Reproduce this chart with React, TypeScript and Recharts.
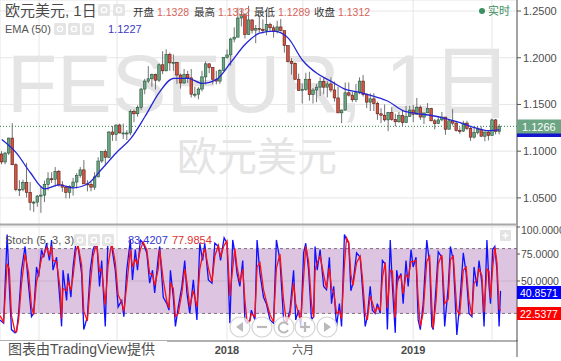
import React from 'react'
import {
  ComposedChart,
  Bar,
  Line,
  XAxis,
  YAxis,
  CartesianGrid,
  ReferenceLine,
  ReferenceArea,
} from 'recharts'

const FONT = '"Liberation Sans", "Noto Sans CJK SC", sans-serif'

// weekly candles from mid Oct 2016: open, high, low, close
const weeklyCandles: [number, number, number, number][] = [
  [1.0970, 1.1000, 1.0860, 1.0885], [1.0885, 1.0990, 1.0860, 1.0980], [1.0980, 1.1145, 1.0960, 1.1140],
  [1.1140, 1.1300, 1.0850, 1.0855], [1.0855, 1.0870, 1.0570, 1.0590], [1.0590, 1.0690, 1.0520, 1.0590],
  [1.0590, 1.0695, 1.0570, 1.0665], [1.0665, 1.0875, 1.0505, 1.0560], [1.0560, 1.0670, 1.0365, 1.0450],
  [1.0450, 1.0470, 1.0350, 1.0455], [1.0455, 1.0530, 1.0405, 1.0520], [1.0520, 1.0630, 1.0340, 1.0530],
  [1.0530, 1.0685, 1.0455, 1.0645], [1.0645, 1.0775, 1.0580, 1.0705], [1.0705, 1.0775, 1.0660, 1.0700],
  [1.0700, 1.0830, 1.0620, 1.0785], [1.0785, 1.0800, 1.0620, 1.0640], [1.0640, 1.0680, 1.0565, 1.0615],
  [1.0615, 1.0630, 1.0495, 1.0560], [1.0560, 1.0635, 1.0495, 1.0620], [1.0620, 1.0715, 1.0525, 1.0670],
  [1.0670, 1.0765, 1.0600, 1.0740], [1.0740, 1.0830, 1.0715, 1.0800], [1.0800, 1.0905, 1.0650, 1.0650],
  [1.0650, 1.0690, 1.0570, 1.0645], [1.0645, 1.0670, 1.0570, 1.0615], [1.0615, 1.0775, 1.0585, 1.0725],
  [1.0725, 1.0935, 1.0720, 1.0895], [1.0895, 1.0995, 1.0875, 1.0995], [1.0995, 1.1020, 1.0840, 1.0935],
  [1.0935, 1.1215, 1.0925, 1.1205], [1.1205, 1.1270, 1.1110, 1.1180], [1.1180, 1.1285, 1.1110, 1.1280],
  [1.1280, 1.1295, 1.1190, 1.1195], [1.1195, 1.1295, 1.1130, 1.1195], [1.1195, 1.1225, 1.1120, 1.1195],
  [1.1195, 1.1445, 1.1170, 1.1425], [1.1425, 1.1445, 1.1310, 1.1400], [1.1400, 1.1490, 1.1370, 1.1470],
  [1.1470, 1.1680, 1.1440, 1.1665], [1.1665, 1.1775, 1.1610, 1.1750], [1.1750, 1.1910, 1.1730, 1.1775],
  [1.1775, 1.1830, 1.1690, 1.1820], [1.1820, 1.1830, 1.1660, 1.1760], [1.1760, 1.1940, 1.1740, 1.1925],
  [1.1925, 1.2070, 1.1825, 1.1860], [1.1860, 1.2090, 1.1855, 1.2035], [1.2035, 1.2055, 1.1860, 1.1945],
  [1.1945, 1.2035, 1.1860, 1.1950], [1.1950, 1.1955, 1.1720, 1.1815], [1.1815, 1.1830, 1.1670, 1.1730],
  [1.1730, 1.1880, 1.1720, 1.1820], [1.1820, 1.1860, 1.1730, 1.1785], [1.1785, 1.1880, 1.1575, 1.1610],
  [1.1610, 1.1690, 1.1575, 1.1610], [1.1610, 1.1685, 1.1555, 1.1665], [1.1665, 1.1860, 1.1640, 1.1795],
  [1.1795, 1.1960, 1.1715, 1.1935], [1.1935, 1.1940, 1.1835, 1.1895], [1.1895, 1.1895, 1.1715, 1.1770],
  [1.1770, 1.1860, 1.1715, 1.1750], [1.1750, 1.1880, 1.1720, 1.1865], [1.1865, 1.2005, 1.1860, 1.2005],
  [1.2005, 1.2090, 1.1990, 1.2030], [1.2030, 1.2215, 1.1915, 1.2200], [1.2200, 1.2325, 1.2165, 1.2220],
  [1.2220, 1.2535, 1.2220, 1.2425], [1.2425, 1.2520, 1.2335, 1.2460], [1.2460, 1.2475, 1.2205, 1.2250],
  [1.2250, 1.2555, 1.2245, 1.2405], [1.2405, 1.2410, 1.2260, 1.2295], [1.2295, 1.2350, 1.2155, 1.2315],
  [1.2315, 1.2445, 1.2270, 1.2305], [1.2305, 1.2410, 1.2260, 1.2290], [1.2290, 1.2475, 1.2240, 1.2355],
  [1.2355, 1.2375, 1.2285, 1.2320], [1.2320, 1.2345, 1.2215, 1.2280], [1.2280, 1.2395, 1.2260, 1.2330],
  [1.2330, 1.2415, 1.2280, 1.2290], [1.2290, 1.2290, 1.2055, 1.2130], [1.2130, 1.2130, 1.1950, 1.1960],
  [1.1960, 1.1995, 1.1820, 1.1940], [1.1940, 1.1950, 1.1765, 1.1770], [1.1770, 1.1830, 1.1645, 1.1650],
  [1.1650, 1.1725, 1.1510, 1.1660], [1.1660, 1.1840, 1.1645, 1.1770], [1.1770, 1.1850, 1.1540, 1.1605],
  [1.1605, 1.1675, 1.1510, 1.1655], [1.1655, 1.1720, 1.1525, 1.1685], [1.1685, 1.1790, 1.1590, 1.1745],
  [1.1745, 1.1790, 1.1610, 1.1685], [1.1685, 1.1750, 1.1575, 1.1720], [1.1720, 1.1790, 1.1630, 1.1655],
  [1.1655, 1.1745, 1.1530, 1.1570], [1.1570, 1.1690, 1.1410, 1.1410], [1.1410, 1.1445, 1.1300, 1.1440],
  [1.1440, 1.1735, 1.1430, 1.1625], [1.1625, 1.1735, 1.1585, 1.1600], [1.1600, 1.1635, 1.1525, 1.1550],
  [1.1550, 1.1720, 1.1525, 1.1625], [1.1625, 1.1790, 1.1610, 1.1750], [1.1750, 1.1815, 1.1585, 1.1605],
  [1.1605, 1.1620, 1.1460, 1.1525], [1.1525, 1.1620, 1.1430, 1.1560], [1.1560, 1.1620, 1.1430, 1.1510],
  [1.1510, 1.1530, 1.1335, 1.1400], [1.1400, 1.1460, 1.1300, 1.1385], [1.1385, 1.1500, 1.1315, 1.1335],
  [1.1335, 1.1420, 1.1215, 1.1415], [1.1415, 1.1470, 1.1325, 1.1340], [1.1340, 1.1400, 1.1265, 1.1315],
  [1.1315, 1.1420, 1.1305, 1.1380], [1.1380, 1.1440, 1.1270, 1.1305], [1.1305, 1.1485, 1.1305, 1.1370],
  [1.1370, 1.1485, 1.1370, 1.1440], [1.1440, 1.1495, 1.1310, 1.1395], [1.1395, 1.1570, 1.1395, 1.1470],
  [1.1470, 1.1490, 1.1335, 1.1365], [1.1365, 1.1410, 1.1290, 1.1410], [1.1410, 1.1515, 1.1410, 1.1455],
  [1.1455, 1.1465, 1.1320, 1.1325], [1.1325, 1.1345, 1.1235, 1.1295], [1.1295, 1.1370, 1.1290, 1.1335],
  [1.1335, 1.1420, 1.1320, 1.1365], [1.1365, 1.1365, 1.1175, 1.1235], [1.1235, 1.1345, 1.1235, 1.1325],
  [1.1325, 1.1450, 1.1275, 1.1300], [1.1300, 1.1325, 1.1210, 1.1220], [1.1220, 1.1255, 1.1185, 1.1215],
  [1.1215, 1.1325, 1.1205, 1.1300], [1.1300, 1.1325, 1.1225, 1.1245], [1.1245, 1.1265, 1.1110, 1.1150],
  [1.1150, 1.1265, 1.1135, 1.1200], [1.1200, 1.1265, 1.1180, 1.1235], [1.1235, 1.1265, 1.1155, 1.1160],
  [1.1160, 1.1210, 1.1105, 1.1205], [1.1205, 1.1215, 1.1115, 1.1170], [1.1170, 1.1348, 1.1165, 1.1335],
  [1.1335, 1.1345, 1.1180, 1.1210], [1.1210, 1.1290, 1.1180, 1.1266],
]

// EMA(50), sampled every 4 weeks
const emaWeeks = [0, 4, 8, 12, 16, 20, 24, 28, 32, 36, 40, 44, 48, 52, 56, 60, 64, 68, 72, 76, 80, 84, 88, 92, 96, 100, 104, 108, 112, 116, 120, 124, 128, 132, 136, 139]
const emaValues = [
  1.1124, 1.0984, 1.0769, 1.0597, 1.0640, 1.0608, 1.0651, 1.0812, 1.0984, 1.1134, 1.1371, 1.1629,
  1.1780, 1.1780, 1.1726, 1.1769, 1.1952, 1.2145, 1.2263, 1.2285, 1.2210, 1.1973, 1.1833, 1.1747,
  1.1661, 1.1629, 1.1586, 1.1532, 1.1435, 1.1403, 1.1382, 1.1349, 1.1306, 1.1253, 1.1220, 1.1227,
]

// Stoch (5,3,3): trading day index, %K, %D
const stochDays = [
  0, 5, 10, 13, 16, 21, 23, 26, 30, 35, 40, 44, 47, 51, 54, 58, 61, 65, 69, 72, 74, 79, 84, 86, 88, 93, 95, 99,
  102, 106, 109, 114, 117, 122, 126, 130, 135, 139, 142, 147, 151, 156, 161, 165, 170, 173, 177, 182, 185, 189,
  192, 196, 200, 205, 209, 213, 216, 221, 223, 228, 233, 236, 238, 242, 245, 249, 254, 258, 261, 265, 270, 275,
  279, 283, 286, 291, 296, 300, 305, 308, 313, 317, 321, 325, 328, 331, 335, 339, 342, 345, 349, 351, 356, 359,
  363, 368, 372, 377, 382, 386, 391, 396, 400, 405, 410, 413, 417, 420, 424, 427, 431, 435, 438, 440, 443, 447,
  452, 456, 460, 463, 466, 470, 474, 477, 481, 484, 487, 490, 493, 498, 503, 506, 510, 513, 517, 520, 524, 527,
  531, 534, 538, 541, 545, 548, 552, 554, 556, 560, 563, 567, 570, 574, 577, 581, 584, 587, 591, 596, 600, 603,
  605, 609, 612, 617, 621, 626, 629, 633, 638, 642, 647, 651, 655, 659, 662, 666, 669, 673, 676, 680, 683, 685,
  688, 691, 694, 697, 699,
]
const stochK = [
  14, 11, 93, 45, 5, 2, 3, 20, 60, 82, 45, 17, 20, 63, 54, 79, 72, 85, 69, 88, 60, 72, 29, 8, 60, 32, 57, 35,
  63, 85, 82, 57, 5, 17, 60, 79, 88, 45, 69, 8, 93, 82, 60, 26, 32, 17, 60, 88, 51, 79, 60, 88, 85, 76, 48, 60,
  39, 72, 82, 35, 29, 23, 60, 35, 8, 26, 45, 69, 39, 20, 51, 14, 85, 69, 85, 51, 48, 85, 82, 69, 90, 85, 11, 88,
  76, 57, 45, 69, 14, 11, 14, 23, 14, 88, 57, 35, 29, 14, 11, 88, 69, 14, 11, 23, 60, 14, 23, 8, 76, 85, 60, 14,
  17, 82, 60, 79, 45, 42, 72, 29, 45, 8, 29, 8, 93, 88, 85, 41, 48, 76, 72, 45, 8, 17, 45, 23, 20, 29, 20, 69,
  66, 5, 88, 45, 2, 60, 51, 57, 29, 69, 45, 79, 63, 72, 14, 5, 29, 88, 66, 8, 5, 45, 77, 72, 8, 45, 82, 69, 0,
  29, 76, 57, 20, 17, 63, 45, 69, 48, 8, 88, 45, 29, 79, 82, 60, 8, 40.8571,
]
const stochD = [
  18, 12, 66, 61, 18, 3, 3, 14, 47, 75, 57, 26, 19, 49, 57, 71, 74, 81, 74, 82, 69, 68, 43, 15, 43, 41, 49, 42,
  54, 78, 83, 65, 22, 13, 46, 73, 85, 59, 61, 28, 65, 86, 67, 37, 30, 22, 46, 79, 63, 70, 66, 79, 86, 79, 57, 56,
  46, 61, 79, 51, 31, 25, 48, 43, 17, 20, 39, 61, 49, 26, 41, 26, 61, 74, 80, 62, 49, 73, 83, 73, 83, 87, 36, 62,
  80, 63, 49, 61, 32, 12, 13, 20, 17, 63, 67, 42, 31, 19, 12, 62, 75, 32, 12, 19, 48, 29, 20, 13, 53, 82, 68, 29,
  16, 60, 67, 73, 56, 43, 62, 43, 40, 20, 22, 15, 65, 90, 86, 56, 46, 67, 73, 54, 20, 14, 36, 30, 21, 26, 23, 53,
  67, 25, 60, 59, 16, 41, 54, 55, 38, 56, 53, 68, 68, 69, 33, 8, 21, 68, 73, 27, 6, 32, 66, 74, 29, 33, 70, 73,
  23, 19, 60, 63, 32, 18, 48, 51, 61, 55, 21, 61, 59, 34, 62, 81, 67, 25, 22.5377,
]

// time axis, in weeks from the first candle (labels under the logo box are not shown)
const timeTicks = [10.4, 32.2, 62.9, 84.1, 114.9, 136.9]
const timeLabels = ['', '', '2018', '六月', '2019', '']
const priceTicks = [1.05, 1.1, 1.15, 1.2, 1.25]
const stochTicks = [50, 75, 100]
const lastPrice = 1.1266

const candleData = weeklyCandles.map(([o, h, l, c], i) => ({ t: i, o, h, l, c, range: [l, h] }))
const emaData = emaWeeks.map((t, i) => ({ t, ema: emaValues[i] }))
const stochData = stochDays.map((d, i) => ({ t: d / 5 - 0.5, k: stochK[i], d: stochD[i] }))

const X_DOMAIN: [number, number] = [-0.5, 143.9]

function Candle(props: any) {
  const { x, y, width, height, payload } = props
  if (!payload) return null
  const { o, h, l, c } = payload
  const top = Math.min(y, y + height)
  const span = Math.abs(height)
  const k = h > l ? span / (h - l) : 0
  const yo = top + (h - o) * k
  const yc = top + (h - c) * k
  const up = c >= o
  const cx = x + width / 2
  return (
    <g>
      <line x1={cx} x2={cx} y1={top} y2={top + span} stroke="#737375" strokeWidth={1} />
      <rect
        x={cx - 1.3}
        y={Math.min(yo, yc)}
        width={2.6}
        height={Math.max(Math.abs(yc - yo), 1)}
        fill={up ? '#6ba583' : '#d75442'}
        stroke={up ? '#225437' : '#5b1a13'}
        strokeWidth={0.6}
      />
    </g>
  )
}

function TimeTick({ x, y, payload }: any) {
  const i = timeTicks.indexOf(payload.value)
  const label = i >= 0 ? timeLabels[i] : ''
  if (!label) return null
  const isYear = /^\d+$/.test(label)
  return (
    <text x={x} y={y + 13} textAnchor="middle" fontSize={11} fill="#4a4a4a" fontWeight={isYear ? 700 : 400}>
      {label}
    </text>
  )
}

const axisTick = { fill: '#4d4d4d', fontSize: 11 }
const stochTick = { fill: '#4d4d4d', fontSize: 10.5 }

function IconBox({ x, y }: { x: number; y: number }) {
  return (
    <g>
      <rect x={x} y={y} width={12} height={12} rx={1.5} fill="#e4e4e4" />
      <circle cx={x + 6} cy={y + 6} r={2.6} fill="none" stroke="#fff" strokeWidth={1.4} />
    </g>
  )
}

function NavButton({ cx, kind }: { cx: number; kind: string }) {
  const cy = 327
  const c = '#b9b9b9'
  return (
    <g>
      <circle cx={cx} cy={cy} r={10} fill="rgba(255,255,255,0.75)" stroke="#d4d4d4" strokeWidth={1.2} />
      {kind === 'left' && <path d={`M${cx - 4} ${cy} L${cx + 3} ${cy - 5} L${cx + 3} ${cy + 5} Z`} fill={c} />}
      {kind === 'right' && <path d={`M${cx + 4} ${cy} L${cx - 3} ${cy - 5} L${cx - 3} ${cy + 5} Z`} fill={c} />}
      {(kind === 'minus' || kind === 'plus') && (
        <line x1={cx - 5} x2={cx + 5} y1={cy} y2={cy} stroke={c} strokeWidth={2.2} />
      )}
      {kind === 'plus' && <line x1={cx} x2={cx} y1={cy - 5} y2={cy + 5} stroke={c} strokeWidth={2.2} />}
      {kind === 'reset' && (
        <path d={`M${cx + 4} ${cy - 2} A5 5 0 1 0 ${cx + 4} ${cy + 3}`} fill="none" stroke={c} strokeWidth={2} />
      )}
    </g>
  )
}

export default function App() {
  return (
    <div
      style={{
        position: 'absolute',
        left: 0,
        top: 0,
        width: 561,
        height: 361,
        background: '#fff',
        overflow: 'hidden',
        fontFamily: FONT,
      }}
    >
      {/* watermark */}
      <svg width={561} height={361} style={{ position: 'absolute', left: 0, top: 0 }}>
        <text x={7} y={112} fontSize={82} fill="#e4e4e4" fontFamily={FONT}>
          FESEUR, 1日
        </text>
        <text x={177} y={171} fontSize={40} fill="#e4e4e4" fontFamily={FONT}>
          欧元美元
        </text>
      </svg>

      <div style={{ position: 'absolute', left: 0, top: 0 }}>
        <ComposedChart width={561} height={225} data={candleData} margin={{ top: 0, right: 0, bottom: 0, left: 0 }}>
          <CartesianGrid stroke="#e6e6e6" />
          <XAxis type="number" dataKey="t" domain={X_DOMAIN} ticks={timeTicks} allowDataOverflow hide />
          <YAxis
            orientation="right"
            width={44}
            domain={[1.021, 1.2618]}
            ticks={priceTicks}
            allowDataOverflow
            tickFormatter={(v) => Number(v).toFixed(4)}
            tick={axisTick}
            tickSize={4}
            tickMargin={2}
            axisLine={{ stroke: '#555' }}
            tickLine={{ stroke: '#555' }}
          />
          <ReferenceLine y={lastPrice} stroke="#2f7d4f" strokeDasharray="1 2" />
          <Bar dataKey="range" barSize={3} shape={Candle} isAnimationActive={false} />
          <Line
            data={emaData}
            dataKey="ema"
            type="monotone"
            stroke="#2424d6"
            strokeWidth={1.3}
            dot={false}
            isAnimationActive={false}
          />
        </ComposedChart>
      </div>

      <div style={{ position: 'absolute', left: 0, top: 225 }}>
        <ComposedChart width={561} height={136} data={stochData} margin={{ top: 0, right: 0, bottom: 0, left: 0 }}>
          <CartesianGrid stroke="#e6e6e6" />
          <XAxis
            type="number"
            dataKey="t"
            domain={X_DOMAIN}
            ticks={timeTicks}
            allowDataOverflow
            height={20}
            tickSize={0}
            tickMargin={0}
            tick={<TimeTick />}
            axisLine={{ stroke: '#9a9a9a', strokeWidth: 1.5 }}
          />
          <YAxis
            orientation="right"
            width={44}
            domain={[-5.56, 101.85]}
            ticks={stochTicks}
            allowDataOverflow
            tickFormatter={(v) => Number(v).toFixed(4)}
            tick={stochTick}
            tickSize={3}
            tickMargin={1}
            axisLine={{ stroke: '#555' }}
            tickLine={{ stroke: '#555' }}
          />
          <ReferenceArea y1={20} y2={80} fill="#8e3fa0" fillOpacity={0.3} stroke="none" />
          <ReferenceLine y={80} stroke="#7d707d" strokeDasharray="3 3" />
          <ReferenceLine y={20} stroke="#7d707d" strokeDasharray="3 3" />
          <Line dataKey="k" stroke="#1010ff" strokeWidth={1.3} dot={false} isAnimationActive={false} />
          <Line dataKey="d" stroke="#ff1010" strokeWidth={1.3} dot={false} isAnimationActive={false} />
        </ComposedChart>
      </div>

      {/* legends, price labels, controls */}
      <svg width={561} height={361} style={{ position: 'absolute', left: 0, top: 0 }} fontFamily={FONT}>
        <line x1={0} x2={517} y1={224.5} y2={224.5} stroke="#a8a8a8" strokeWidth={2} />
        <line x1={517} x2={517} y1={340} y2={357} stroke="#555" />

        <text x={5} y={16} fontSize={15} fill="#4a4a4a">欧元美元, 1日</text>
        <IconBox x={98} y={4} />
        <IconBox x={113} y={4} />
        <g fontSize={10.5}>
          <text x={133} y={16} fill="#333">开盘</text>
          <text x={157} y={16} fill="#d7645a">1.1328</text>
          <text x={194} y={16} fill="#333">最高</text>
          <text x={218} y={16} fill="#d7645a">1.1332</text>
          <text x={254} y={16} fill="#333">最低</text>
          <text x={278} y={16} fill="#d7645a">1.1289</text>
          <text x={314} y={16} fill="#333">收盘</text>
          <text x={338} y={16} fill="#d7645a">1.1312</text>
        </g>
        <circle cx={482} cy={11} r={3} fill="#3c8f5f" />
        <text x={488} y={15} fontSize={11} fill="#3c8f5f">实时</text>

        <text x={5} y={33} fontSize={11} fill="#555">EMA (50)</text>
        <IconBox x={54} y={23} />
        <IconBox x={68} y={23} />
        <IconBox x={82} y={23} />
        <text x={108} y={33} fontSize={11} fill="#3a3ac8">1.1227</text>

        <rect x={517} y={123} width={44} height={14} fill="#1515d0" />
        <rect x={517} y={119.5} width={44} height={14} fill="#6ba583" />
        <text x={522} y={130.5} fontSize={11} fill="#fff">1.1266</text>

        <text x={5} y={244} fontSize={11} fill="#555">Stoch (5, 3, 3)</text>
        <IconBox x={74} y={234} />
        <IconBox x={88} y={234} />
        <IconBox x={102} y={234} />
        <text x={128} y={244} fontSize={11} fill="#3535d0">83.4207</text>
        <text x={172} y={244} fontSize={11} fill="#e03030">77.9854</text>
        <rect x={500} y={230} width={11} height={11} rx={1} fill="#e3e3e3" />
        <line x1={502.5} x2={508.5} y1={235.5} y2={235.5} stroke="#fff" strokeWidth={1.5} />
        <line x1={505.5} x2={505.5} y1={232.5} y2={238.5} stroke="#fff" strokeWidth={1.5} />

        <rect x={517} y={286} width={44} height={13} fill="#0000ff" />
        <text x={520} y={296.5} fontSize={10.5} fill="#fff">40.8571</text>
        <rect x={517} y={307} width={44} height={13} fill="#ff0000" />
        <text x={520} y={317.5} fontSize={10.5} fill="#fff">22.5377</text>

        <NavButton cx={240} kind="left" />
        <NavButton cx={262} kind="minus" />
        <NavButton cx={284} kind="reset" />
        <NavButton cx={305} kind="plus" />
        <NavButton cx={327} kind="right" />

        <rect x={0} y={341} width={167} height={20} fill="#fff" />
        <text x={8} y={354} fontSize={14} fill="#505050">图表由TradingView提供</text>
      </svg>
    </div>
  )
}
